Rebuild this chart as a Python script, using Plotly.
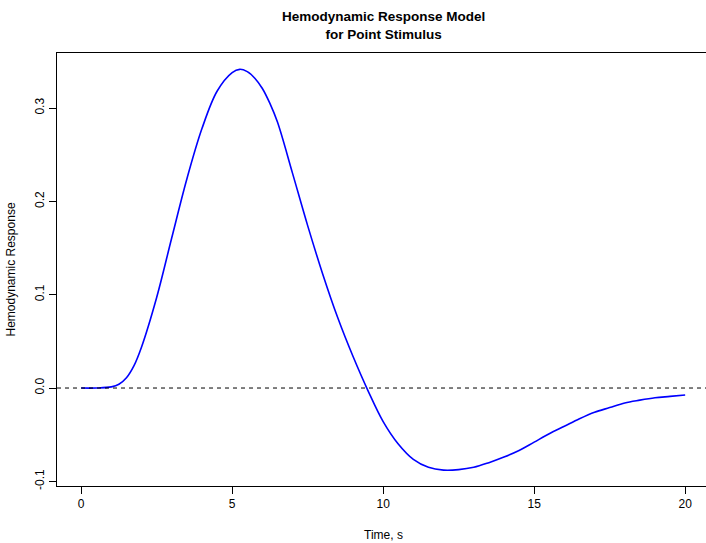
import plotly.graph_objects as go

# Data
time_s = [0, 0.5, 1, 1.25, 1.5, 1.75, 2, 2.5, 3, 3.5, 4, 4.5, 5, 5.25, 5.5, 5.75, 6, 6.25,
          6.5, 7, 7.5, 8, 8.5, 9, 9.5, 10, 10.5, 11, 11.5, 12, 12.5, 13, 13.5, 14, 14.5,
          15, 15.5, 16, 16.5, 17, 17.5, 18, 18.5, 19, 19.5, 20]
response = [0.0, 0.0, 0.0012, 0.004, 0.011, 0.024, 0.044, 0.097, 0.161, 0.224, 0.278, 0.318,
            0.338, 0.3415, 0.339, 0.332, 0.321, 0.305, 0.285, 0.230, 0.174, 0.122, 0.075,
            0.034, -0.003, -0.036, -0.060, -0.0765, -0.085, -0.088, -0.0875, -0.085, -0.080,
            -0.074, -0.067, -0.058, -0.049, -0.041, -0.033, -0.026, -0.021, -0.016, -0.013,
            -0.0105, -0.009, -0.0075]
x_ticks = [0, 5, 10, 15, 20]
y_ticks = [-0.1, 0.0, 0.1, 0.2, 0.3]
y_tick_labels = ["-0.1", "0.0", "0.1", "0.2", "0.3"]

FONT = "Liberation Sans, Arial, Helvetica, sans-serif"

fig = go.Figure()
fig.add_trace(go.Scatter(x=time_s, y=response, mode="lines",
                         line=dict(color="#0000FF", width=1.6, shape="spline", smoothing=1.0),
                         hoverinfo="skip", showlegend=False))

fig.add_shape(type="line", xref="paper", yref="y", x0=0, x1=1, y0=0, y1=0,
              line=dict(color="black", width=1, dash="4px,4px"))

L, R, T, B = 57, 0, 53, 57
W, H = 706, 543
pw = W - L - R
cx = (383 - L) / pw

fig.update_layout(
    width=W, height=H,
    margin=dict(l=L, r=R, t=T, b=B),
    paper_bgcolor="white", plot_bgcolor="white",
    font=dict(family=FONT, size=12, color="black"),
    xaxis=dict(range=[-0.8, 20.69], tickvals=x_ticks, ticktext=[str(v) for v in x_ticks],
               showgrid=False, zeroline=False, showline=True, linecolor="black", linewidth=1,
               mirror=True, ticks="outside", ticklen=7, tickcolor="black", tickwidth=1,
               tickfont=dict(family=FONT, size=12)),
    yaxis=dict(range=[-0.105, 0.359], tickvals=y_ticks, ticktext=y_tick_labels,
               showgrid=False, zeroline=False, showline=True, linecolor="black", linewidth=1,
               mirror=False, ticks="outside", ticklen=7, tickcolor="black", tickwidth=1,
               tickangle=-90, tickfont=dict(family=FONT, size=12)),
    annotations=[
        dict(text="<b>Hemodynamic Response Model<br>for Point Stimulus</b>", xref="paper",
             yref="paper", x=cx, y=1, yshift=28, xanchor="center", yanchor="middle",
             showarrow=False, font=dict(family=FONT, size=13.5)),
        dict(text="Time, s", xref="paper", yref="paper", x=cx, y=0, yshift=-49,
             xanchor="center", yanchor="middle", showarrow=False,
             font=dict(family=FONT, size=12)),
        dict(text="Hemodynamic Response", xref="paper", yref="paper", x=0, xshift=-47,
             y=0.5, xanchor="center", yanchor="middle", textangle=-90, showarrow=False,
             font=dict(family=FONT, size=12)),
    ],
)

fig.write_html("out.html", config={"displayModeBar": False},
               post_script="document.body.style.margin='0';document.body.style.overflow='hidden';")
